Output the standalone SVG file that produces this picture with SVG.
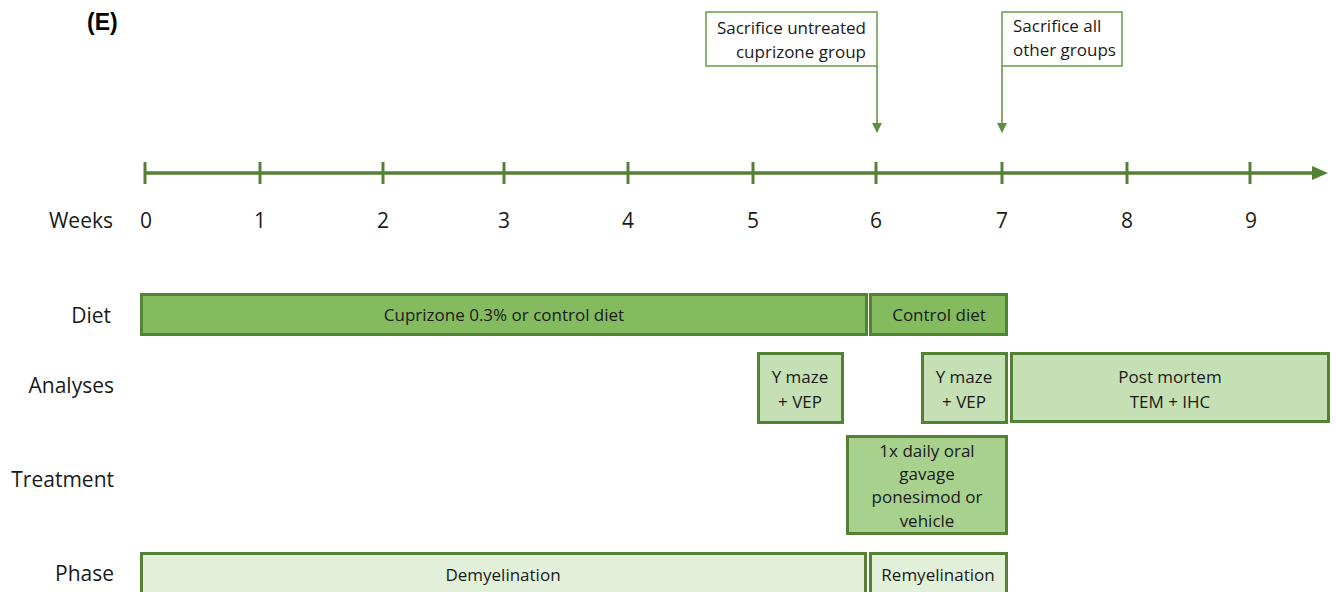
<svg xmlns="http://www.w3.org/2000/svg" width="1336" height="592" viewBox="0 0 1336 592">
<style>
  text { font-family: "Open Sans", "Liberation Sans", sans-serif; fill: #1a1a1a; font-size: 17px; }
  .c { text-anchor: middle; }
  .r { text-anchor: end; }
  .axis { font-size: 21px; }
  .lbl { font-size: 21px; }
  .bar { stroke: #548235; stroke-width: 3; }
  .diet { fill: #84BB5E; }
  .ana { fill: #C5E0B4; }
  .trt { fill: #A9D18E; }
  .pha { fill: #E2F0D9; }
  .tick { stroke: #548235; stroke-width: 3; }
  .callout { fill: #fff; stroke: #6A9A4A; stroke-width: 1.5; }
  .conn { stroke: #5E8F3E; stroke-width: 1.5; fill: none; }
</style>
<defs>
  <marker id="ah" markerWidth="10" markerHeight="10" refX="9" refY="5" orient="auto" markerUnits="userSpaceOnUse">
    <path d="M0,0 L10,5 L0,10 Z" fill="#5E8F3E"/>
  </marker>
  <marker id="big" markerWidth="16" markerHeight="14" refX="2" refY="7" orient="auto" markerUnits="userSpaceOnUse">
    <path d="M0,0 L16,7 L0,14 Z" fill="#548235"/>
  </marker>
</defs>

<text x="87" y="30" style="font-family:'Liberation Sans',Arial,sans-serif;font-weight:bold;font-size:23px;fill:#000">(E)</text>

<g id="timeline">
  <line x1="144" y1="173" x2="1314" y2="173" stroke="#548235" stroke-width="3.5" marker-end="url(#big)"/>
  <line class="tick" x1="145" y1="162" x2="145" y2="184"/>
  <line class="tick" x1="260" y1="162" x2="260" y2="184"/>
  <line class="tick" x1="383" y1="162" x2="383" y2="184"/>
  <line class="tick" x1="504" y1="162" x2="504" y2="184"/>
  <line class="tick" x1="628" y1="162" x2="628" y2="184"/>
  <line class="tick" x1="753" y1="162" x2="753" y2="184"/>
  <line class="tick" x1="876" y1="162" x2="876" y2="184"/>
  <line class="tick" x1="1002" y1="162" x2="1002" y2="184"/>
  <line class="tick" x1="1127" y1="162" x2="1127" y2="184"/>
  <line class="tick" x1="1250" y1="162" x2="1250" y2="184"/>
  <text x="113" y="228" class="r axis">Weeks</text>
  <text x="146" y="228" class="c axis">0</text>
  <text x="260" y="228" class="c axis">1</text>
  <text x="383" y="228" class="c axis">2</text>
  <text x="504" y="228" class="c axis">3</text>
  <text x="628" y="228" class="c axis">4</text>
  <text x="753" y="228" class="c axis">5</text>
  <text x="876" y="228" class="c axis">6</text>
  <text x="1002" y="228" class="c axis">7</text>
  <text x="1127" y="228" class="c axis">8</text>
  <text x="1251" y="228" class="c axis">9</text>
</g>

<g id="row-labels">
  <text x="111" y="323" class="r lbl">Diet</text>
  <text x="114" y="393" class="r lbl">Analyses</text>
  <text x="114" y="487" class="r lbl">Treatment</text>
  <text x="114" y="581" class="r lbl">Phase</text>
</g>

<g id="callout-untreated">
  <rect class="callout" x="706" y="12" width="171" height="54"/>
  <text x="866" y="34" class="r">Sacrifice untreated</text>
  <text x="866" y="58" class="r">cuprizone group</text>
</g>
<g id="callout-others">
  <rect class="callout" x="1002" y="12" width="120" height="54"/>
  <text x="1013" y="32">Sacrifice all</text>
  <text x="1013" y="56">other groups</text>
</g>

<g id="connectors">
  <line class="conn" x1="877" y1="66" x2="877" y2="132" marker-end="url(#ah)"/>
  <line class="conn" x1="1002" y1="66" x2="1002" y2="132" marker-end="url(#ah)"/>
</g>

<g id="diet-cuprizone">
  <rect class="bar diet" x="141.5" y="294.5" width="725" height="40"/>
  <text x="504" y="321" class="c">Cuprizone 0.3% or control diet</text>
</g>
<g id="diet-control">
  <rect class="bar diet" x="870.5" y="294.5" width="136" height="40"/>
  <text x="939" y="321" class="c">Control diet</text>
</g>

<g id="analyses-1">
  <rect class="bar ana" x="758.5" y="353.5" width="84" height="69"/>
  <text x="800" y="383" class="c">Y maze</text>
  <text x="800" y="408" class="c">+ VEP</text>
</g>
<g id="analyses-2">
  <rect class="bar ana" x="922.5" y="353.5" width="84" height="69"/>
  <text x="964" y="383" class="c">Y maze</text>
  <text x="964" y="408" class="c">+ VEP</text>
</g>
<g id="analyses-postmortem">
  <rect class="bar ana" x="1011.5" y="353.5" width="317" height="68"/>
  <text x="1170" y="383" class="c">Post mortem</text>
  <text x="1170" y="408" class="c">TEM + IHC</text>
</g>

<g id="treatment">
  <rect class="bar trt" x="847.5" y="436.5" width="159" height="97"/>
  <text x="927" y="457" class="c">1x daily oral</text>
  <text x="927" y="480" class="c">gavage</text>
  <text x="927" y="503" class="c">ponesimod or</text>
  <text x="927" y="527" class="c">vehicle</text>
</g>

<g id="phase-demyelination">
  <rect class="bar pha" x="141.5" y="553.5" width="724" height="50"/>
  <text x="503" y="581" class="c">Demyelination</text>
</g>
<g id="phase-remyelination">
  <rect class="bar pha" x="870.5" y="553.5" width="136" height="50"/>
  <text x="938" y="581" class="c">Remyelination</text>
</g>
</svg>
